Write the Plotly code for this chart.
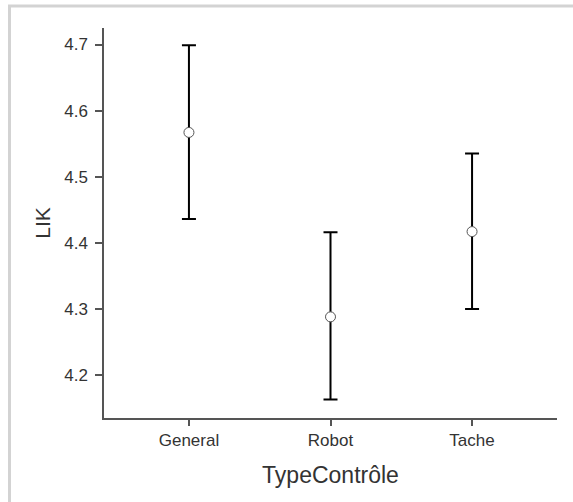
import plotly.graph_objects as go

categories = ["General", "Robot", "Tache"]
means = [4.567, 4.288, 4.417]
upper = [4.699, 4.416, 4.535]
lower = [4.436, 4.163, 4.300]
y_ticks = [4.2, 4.3, 4.4, 4.5, 4.6, 4.7]

err_plus = [u - m for u, m in zip(upper, means)]
err_minus = [m - l for m, l in zip(means, lower)]
xpos = list(range(len(categories)))

fig = go.Figure()
fig.add_trace(go.Scatter(
    x=xpos, y=means, mode="markers",
    marker=dict(symbol="circle", size=10, color="white",
                line=dict(color="#555555", width=1)),
    error_y=dict(type="data", symmetric=False, array=err_plus,
                 arrayminus=err_minus, color="black", thickness=2, width=7),
    showlegend=False, hoverinfo="skip",
))

L, R, T, B = 104, 16, 28, 84
W, H = 573, 502
pw, ph = W - L - R, H - T - B

fig.update_layout(
    width=W, height=H,
    margin=dict(l=L, r=R, t=T, b=B, pad=0),
    paper_bgcolor="white", plot_bgcolor="white",
    font=dict(family="Liberation Sans, Arial, sans-serif", color="#333333"),
    xaxis=dict(
        range=[-0.6, 2.6], tickmode="array", tickvals=xpos, ticktext=categories,
        showgrid=False, zeroline=False, showline=True, linecolor="#555555",
        linewidth=1.5, ticks="outside", ticklen=6, tickcolor="#555555",
        tickwidth=1.5, tickfont=dict(size=17, color="#333333"),
        title=dict(text="TypeContrôle", font=dict(size=23, color="#333333"),
                   standoff=18),
    ),
    yaxis=dict(
        range=[4.135, 4.725], tickmode="array", tickvals=y_ticks,
        ticktext=[f"{v:.1f}" for v in y_ticks],
        showgrid=False, zeroline=False, showline=True, linecolor="#555555",
        linewidth=1.5, ticks="outside", ticklen=7, tickcolor="#555555",
        tickwidth=1.5, tickfont=dict(size=17, color="#333333"),
        ticklabelstandoff=4,
        title=dict(text="LIK", font=dict(size=21, color="#333333"), standoff=8),
    ),
)

# light gray frame around the image (extends past right/bottom edges)
x0 = (9.5 - L) / pw
y1 = (H - B - 6) / ph
fig.add_shape(type="rect", xref="paper", yref="paper",
              x0=x0, x1=1.5, y0=-1.0, y1=y1,
              line=dict(color="#d3d3d3", width=3), fillcolor="rgba(0,0,0,0)",
              layer="below")

fig.write_html("out.html", config={"displayModeBar": False},
               post_script="document.body.style.margin='0';document.body.style.overflow='hidden';")
